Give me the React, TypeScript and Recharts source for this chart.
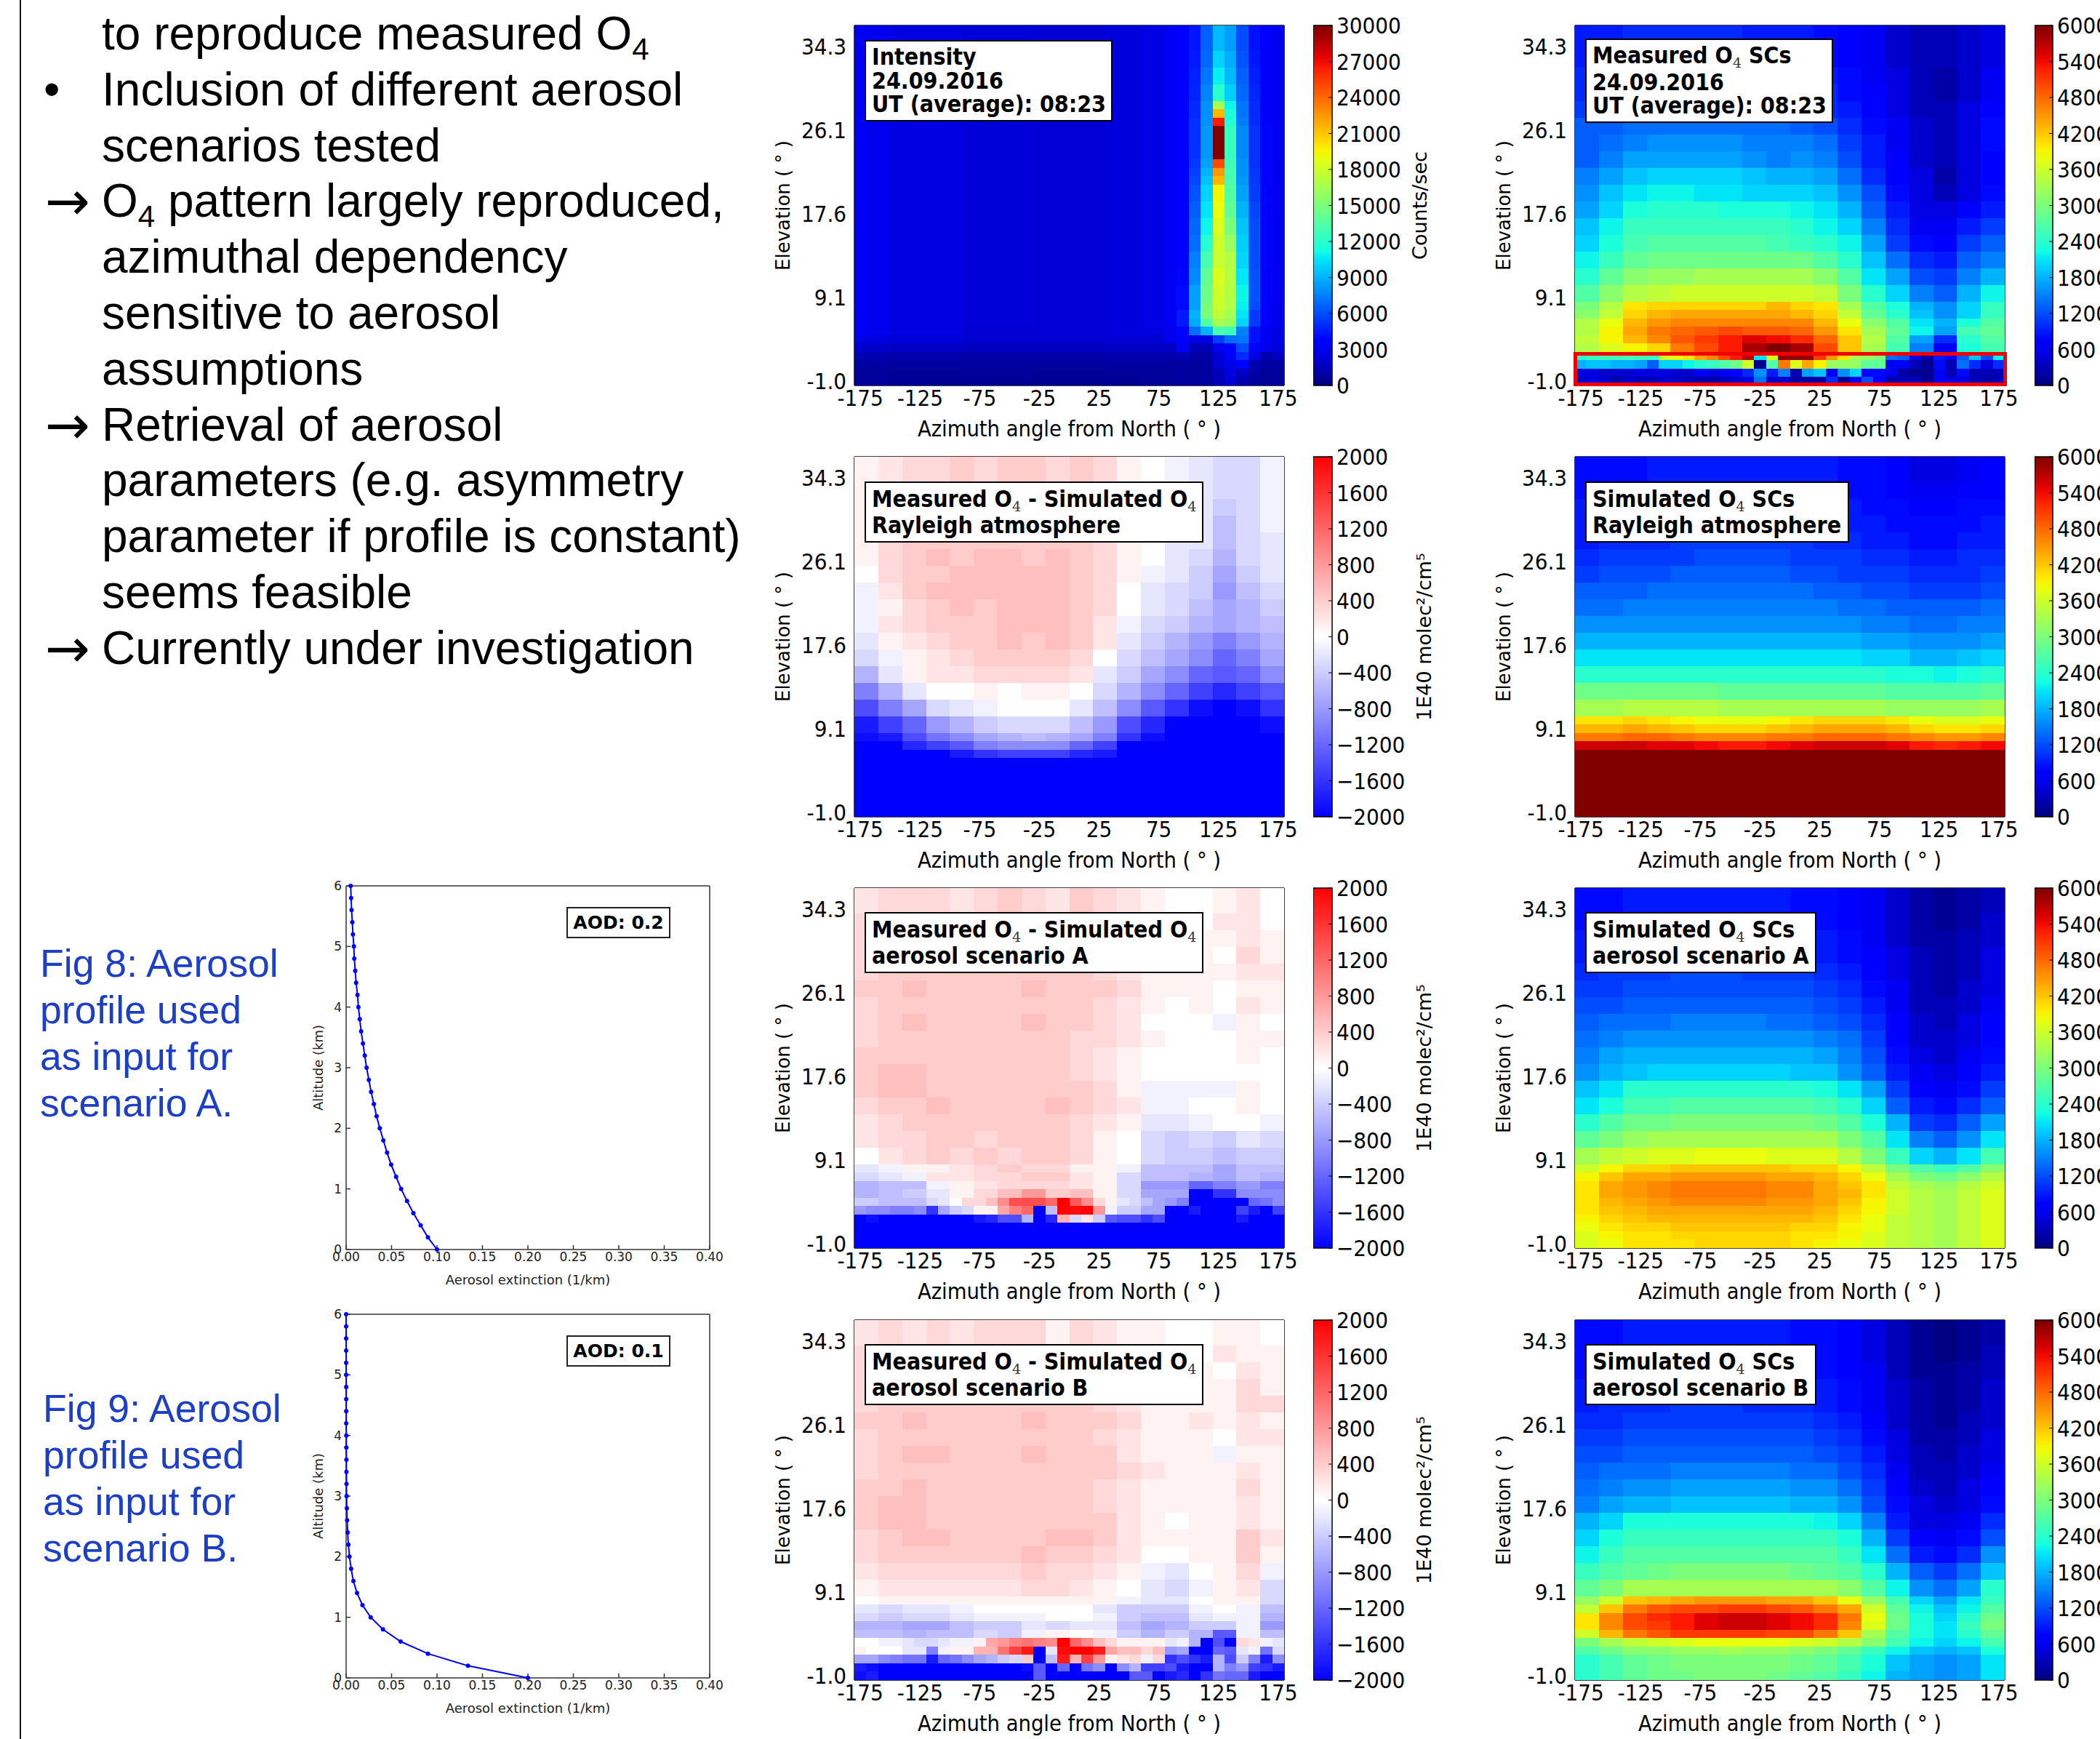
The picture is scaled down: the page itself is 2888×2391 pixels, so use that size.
import { ScatterChart, Scatter, BarChart, Bar, XAxis, YAxis } from 'recharts';

// azimuth / elevation axes
const azimuthTicks = [-175, -125, -75, -25, 25, 75, 125, 175];
const elevationTicks = [0, 10, 20, 30, 40];
const elevationLabels = ['-1.0', '9.1', '17.6', '26.1', '34.3'];

// row spans, top to bottom, in heatmap rows (43 rows in total)
const stdSpans = [3, 2, 2, 2, 2, 2, 2, 2, 2, 2, 2, 2, 2, 2, 2, 2, 1, 1, 1, 1, 1, 1, 1, 1, 1, 1];
const intensitySpans = [3, 2, 2, 2, 1, 1, 1, 4, 1, 1, 1, 2, 2, 2, 2, 2, 2, 2, 1, 1, 1, 1, 1, 1, 1, 1, 1, 1];
const rayleighSimSpans = [3, 2, 2, 2, 2, 2, 2, 2, 2, 2, 2, 2, 2, 2, 2, 1, 1, 1, 1, 8];
const rayleighDiffSpans = [3, 2, 2, 2, 2, 2, 2, 2, 2, 2, 2, 2, 2, 2, 2, 2, 1, 1, 1, 7];
const scenarioADiffSpans = [3, 2, 2, 2, 2, 2, 2, 2, 2, 2, 2, 2, 2, 2, 2, 2, 1, 1, 1, 1, 1, 1, 1, 3];

// column spans (36 columns of 10 degrees); rows with 36 values use single columns
const evenCols = [2, 2, 2, 2, 2, 2, 2, 2, 2, 2, 2, 2, 2, 2, 2, 2, 2, 2];
const intensityCols = [1, 2, 6, 6, 6, 3, 2, 1, 1, 1, 1, 1, 1, 1, 1, 1, 1];

// Intensity, counts/sec in hundreds
const intensityRows = [
  [31,28,25,23,22,24,27,30,33,44,66,92,84,60,42,33,30],
  [31,28,25,23,22,24,27,30,34,45,68,100,88,62,44,34,30],
  [31,28,25,23,22,24,27,30,35,47,72,108,92,66,46,36,30],
  [31,28,25,23,22,24,27,30,35,48,76,120,98,68,48,36,30],
  [31,28,25,23,22,24,27,30,36,50,80,165,110,72,50,36,30],
  [31,28,25,23,22,24,27,30,36,50,80,215,115,72,50,36,30],
  [31,28,25,23,22,24,27,30,36,52,80,265,118,74,50,36,30],
  [31,28,25,23,22,24,27,30,36,52,82,300,125,78,52,38,30],
  [31,28,25,23,22,24,27,30,36,54,85,250,128,80,52,38,30],
  [31,28,25,23,22,24,27,30,36,56,90,225,130,80,54,38,30],
  [31,28,25,23,22,24,27,30,36,58,95,215,132,82,54,38,30],
  [31,28,25,23,22,24,27,30,36,62,100,195,135,85,55,38,30],
  [31,28,25,23,22,24,27,30,36,65,105,190,140,90,58,38,30],
  [31,28,25,23,22,24,27,30,36,68,110,185,150,95,60,38,30],
  [31,28,25,23,22,24,27,30,36,70,120,180,160,98,60,38,30],
  [31,28,25,23,22,24,27,30,36,75,130,178,170,100,60,38,30],
  [31,28,25,23,22,24,27,30,38,78,140,185,172,105,62,38,30],
  [31,28,25,23,22,24,27,30,40,85,145,180,170,110,62,38,30],
  [31,28,25,23,22,24,27,30,40,85,150,178,170,108,60,36,28],
  [31,28,25,23,22,24,27,30,45,90,150,175,165,105,55,35,28],
  [31,28,25,23,22,24,27,30,45,88,135,165,160,100,55,35,28],
  [31,28,25,22,22,24,25,28,35,70,90,130,128,75,42,30,26],
  [27,25,23,21,21,22,22,28,33,26,25,55,70,72,42,30,26],
  [20,19,18,17,17,18,18,18,30,14,14,28,33,60,38,28,24],
  [14,13,12,11,11,12,12,12,14,10,10,22,33,50,26,12,18],
  [9,9,8,8,8,9,9,8,8,8,9,22,26,33,12,9,9],
  [7,7,6,7,6,7,7,7,8,7,8,14,25,18,10,7,8],
  [7,7,6,6,5,6,7,8,8,8,8,14,22,12,8,7,8],
];

// Measured O4 SCs, hundreds
const measuredRows = [
  [9,9,10,10,10,10,10,9,9,9,8,7,6,4,3,3,4,5],
  [9,10,10,10,10,10,10,10,9,9,8,7,6,4,3,3,4,5],
  [10,10,11,11,11,11,11,11,10,10,9,8,6,5,3,2,4,6],
  [10,11,11,12,12,12,12,11,11,11,10,8,7,5,3,2,4,6],
  [11,12,12,13,13,13,13,12,12,11,10,9,7,5,3,3,5,7],
  [13,13,14,14,14,14,14,14,14,13,12,10,8,6,4,3,5,8],
  [13,14,15,16,16,16,16,15,15,15,14,11,9,6,4,3,5,8],
  [13,15,17,17,17,17,17,16,15,16,15,12,9,7,4,3,5,7],
  [15,17,19,20,20,20,20,19,18,18,17,14,10,7,5,2,5,7],
  [16,19,21,22,22,21,21,20,20,20,19,16,12,8,5,3,5,8],
  [17,20,23,24,24,24,23,23,23,22,21,18,13,9,5,5,7,9],
  [19,22,25,25,25,25,25,25,25,24,22,20,15,10,6,6,9,11],
  [20,23,26,27,27,27,27,27,26,25,24,22,17,11,8,7,11,13],
  [22,25,28,29,29,29,29,29,29,29,27,24,19,14,10,9,13,15],
  [24,28,31,32,32,33,33,33,33,33,31,27,21,17,12,11,15,18],
  [27,31,34,35,36,36,36,36,36,36,35,30,24,20,15,13,18,22],
  [30,34,40,41,41,41,41,41,43,41,40,33,27,23,18,16,20,25],
  [31,35,41,43,44,44,44,44,44,43,41,35,28,24,19,16,20,25],
  [34,38,43,45,46,46,46,46,46,46,43,38,31,27,21,18,23,27],
  [34,39,44,47,48,49,50,49,49,48,45,40,33,28,22,17,26,28],
  [35,39,43,46,49,51,53,55,54,52,48,42,34,27,17,10,24,27],
  [34,37,39,41,47,50,53,58,60,58,50,42,33,26,15,6,23,26],
  [24,25,26,26,26,26,25,36,38,40,44,46,50,53,57,21,37,59,59,59,51,45,40,33,32,30,14,13,5,2,9,6,13,19,12,22],
  [18,19,19,18,18,17,13,20,20,22,24,25,27,29,36,1,27,47,37,44,39,32,32,32,28,28,6,6,3,1,8,3,14,10,5,10],
  [5,5,4,4,4,5,5,5,4,4,6,5,6,7,10,16,9,15,3,17,19,6,16,20,7,8,6,2,1,1,7,3,8,3,3,3],
  [4,5,4,2,4,3,3,4,4,3,2,2,3,4,5,14,4,4,2,2,2,10,1,6,12,7,2,3,3,1,6,5,5,3,2,3],
];

// Simulated O4 SCs, Rayleigh atmosphere, hundreds
const simRayleighRows = [
  [8,8,8,9,9,9,9,9,9,9,9,8,8,7,5,5,6,7],
  [8,9,9,9,9,9,9,9,9,9,9,8,8,7,6,6,7,7],
  [9,9,9,9,9,9,10,10,9,9,9,9,8,8,7,7,8,8],
  [9,9,10,10,10,10,10,10,10,10,10,9,9,8,8,8,8,9],
  [9,10,10,10,11,11,11,11,11,11,10,10,9,9,8,8,9,9],
  [10,11,11,11,11,12,12,12,12,11,11,11,10,10,9,9,10,10],
  [11,12,12,12,13,13,13,13,13,12,12,11,11,11,10,10,10,11],
  [13,13,13,14,14,14,14,14,14,14,13,13,12,12,11,11,11,12],
  [14,14,15,15,15,15,15,15,15,15,15,14,14,13,13,13,13,14],
  [16,16,16,16,16,16,16,16,16,16,16,16,15,15,14,14,15,15],
  [18,18,18,18,18,18,18,18,18,18,18,18,17,17,16,16,16,17],
  [21,21,21,21,21,21,21,21,21,21,21,21,20,20,18,18,19,20],
  [24,24,24,24,24,24,24,24,24,24,24,24,24,23,23,22,23,24],
  [29,29,29,29,29,29,28,28,28,28,28,28,28,27,27,27,27,28],
  [33,33,34,34,34,34,33,33,33,33,33,33,33,32,32,32,32,33],
  [40,40,41,40,39,38,38,38,39,40,41,41,41,40,38,37,37,38],
  [43,43,44,43,42,41,41,41,42,43,44,44,44,43,41,40,40,41],
  [47,47,48,48,47,46,46,46,47,47,48,48,48,47,46,45,45,46],
  [56,56,56,55,55,54,53,53,54,55,56,56,56,55,53,52,53,54],
  [60,60,60,60,60,60,60,60,60,60,60,60,60,60,60,60,60,60],
];

// Simulated O4 SCs, aerosol scenario A, hundreds
const simARows = [
  [8,8,9,9,9,9,9,9,9,8,8,7,6,4,2,1,2,3],
  [8,9,9,9,10,10,10,9,9,9,8,7,6,4,2,1,2,4],
  [9,9,10,10,10,10,10,10,10,9,9,8,6,4,2,2,3,4],
  [9,10,10,11,11,11,11,11,10,10,9,8,7,5,3,2,3,5],
  [10,11,11,11,12,12,12,11,11,11,10,9,7,5,3,2,3,5],
  [11,11,12,12,12,12,12,12,12,12,11,10,8,6,3,2,4,5],
  [12,12,13,13,13,13,13,13,13,13,12,11,9,6,3,3,4,6],
  [13,14,14,14,15,15,15,15,14,14,13,12,10,7,4,3,5,7],
  [14,15,16,16,16,16,16,16,16,16,15,14,11,7,4,4,5,7],
  [15,17,18,18,18,18,18,18,18,18,17,15,12,8,5,4,6,8],
  [16,18,19,20,20,20,20,20,20,19,19,16,13,9,6,5,7,9],
  [19,21,24,24,24,24,24,24,24,24,23,21,17,11,7,6,8,11],
  [21,23,26,26,27,27,27,27,27,27,26,24,20,13,9,8,10,13],
  [24,27,29,29,30,30,30,30,30,30,29,27,23,18,11,10,13,17],
  [28,30,32,33,33,33,33,33,33,33,33,30,27,21,15,13,16,21],
  [33,35,36,37,37,38,38,38,37,37,37,34,30,25,20,18,21,26],
  [36,39,41,41,42,42,42,42,42,41,41,39,35,30,27,25,27,31],
  [39,42,44,44,45,45,45,45,44,44,43,41,38,33,30,29,31,34],
  [40,44,45,46,47,47,47,47,46,46,44,42,40,35,33,32,34,36],
  [40,44,45,46,47,47,47,47,46,46,44,43,40,36,34,33,35,37],
  [40,43,44,45,46,46,46,46,45,45,44,42,39,36,34,33,35,37],
  [40,42,43,44,44,44,44,44,44,44,43,41,39,36,34,33,35,37],
  [39,41,42,43,43,43,43,43,43,43,42,40,38,35,34,33,35,37],
  [38,40,41,41,42,42,42,42,42,41,41,39,38,35,34,33,35,37],
  [37,39,40,40,41,41,41,41,41,40,40,39,37,35,34,33,35,37],
  [37,38,40,40,40,41,41,41,41,40,39,38,37,35,34,33,35,37],
];

// Simulated O4 SCs, aerosol scenario B, hundreds
const simBRows = [
  [8,8,9,9,9,9,9,9,9,8,8,7,5,3,1,0,1,2],
  [8,8,9,9,9,9,9,9,9,8,8,7,5,3,1,0,1,3],
  [8,9,9,9,9,10,10,9,9,9,8,7,6,3,1,1,2,3],
  [9,9,10,10,10,10,10,10,10,9,9,8,6,4,2,1,2,4],
  [9,10,10,10,11,11,11,10,10,10,9,8,6,4,2,1,2,4],
  [10,10,11,11,11,11,11,11,11,11,10,9,7,4,2,1,3,4],
  [11,11,12,12,12,12,12,12,12,12,11,10,8,5,2,2,3,5],
  [12,12,13,13,13,13,13,13,13,13,12,11,9,5,3,2,4,5],
  [13,14,14,14,15,15,15,15,15,14,14,12,10,6,3,3,4,6],
  [14,15,16,16,17,17,17,17,17,16,16,14,11,7,4,3,5,7],
  [15,17,18,18,19,19,19,19,19,18,18,16,12,8,5,4,5,8],
  [18,20,23,23,23,23,23,23,23,23,22,20,15,9,5,5,6,10],
  [20,23,25,25,25,25,25,25,25,25,25,23,18,11,7,6,8,12],
  [22,25,27,27,27,27,27,27,27,27,27,25,21,14,9,8,10,16],
  [25,27,28,29,30,30,30,30,30,29,28,27,24,18,13,11,14,19],
  [28,30,33,33,33,33,33,33,33,33,33,31,27,22,16,14,17,24],
  [32,36,42,43,44,45,45,45,44,44,42,38,32,26,20,17,21,25],
  [35,42,47,49,50,50,51,51,50,49,47,44,36,28,22,19,22,27],
  [40,46,50,52,53,55,56,56,55,54,52,47,38,29,23,20,24,29],
  [40,46,50,51,53,55,56,56,55,54,52,46,37,29,23,21,25,30],
  [36,43,47,49,51,51,51,51,50,50,47,42,33,27,23,21,24,28],
  [30,33,35,36,37,38,38,38,38,37,36,34,31,26,22,20,22,26],
  [27,29,31,31,32,32,33,32,32,31,30,28,25,22,19,18,19,23],
  [24,26,28,29,30,30,30,30,30,29,28,26,23,19,17,16,17,21],
  [24,26,28,29,30,30,30,30,30,29,28,26,23,19,17,16,17,21],
  [24,26,28,29,29,30,30,30,29,28,27,25,22,18,17,16,17,21],
];

// Measured - simulated, Rayleigh atmosphere, hundreds
const diffRayleighRows = [
  [1,2,3,3,4,3,4,4,3,4,3,1,0,-1,-2,-3,-3,-1],
  [1,2,3,4,4,4,4,4,4,4,3,1,0,-1,-2,-3,-3,-1],
  [1,3,3,4,4,4,4,4,4,4,3,1,0,-1,-2,-4,-3,-1],
  [1,3,3,4,4,4,4,4,4,4,3,1,0,-1,-2,-5,-3,-1],
  [1,3,4,4,4,4,4,4,4,4,3,1,0,-2,-2,-5,-3,-2],
  [1,3,4,5,4,5,5,4,5,4,3,1,0,-2,-3,-6,-3,-2],
  [0,3,4,4,5,5,5,5,5,4,3,1,-1,-2,-4,-7,-4,-2],
  [-1,2,4,5,5,5,5,5,5,4,3,0,-2,-3,-4,-8,-5,-3],
  [-1,1,3,4,5,4,5,5,5,4,3,0,-2,-3,-5,-7,-6,-4],
  [-1,2,3,4,4,4,5,5,5,4,2,-1,-3,-4,-6,-7,-6,-5],
  [-2,1,2,3,4,4,5,4,5,4,2,-2,-4,-6,-8,-10,-8,-6],
  [-3,-1,1,2,3,4,4,4,4,3,0,-3,-5,-7,-9,-12,-10,-7],
  [-6,-2,1,2,2,3,3,3,3,2,-2,-4,-7,-9,-12,-13,-12,-9],
  [-10,-6,-2,0,0,1,0,1,1,0,-3,-6,-9,-12,-15,-17,-15,-13],
  [-14,-10,-7,-3,-2,-1,0,0,0,-2,-5,-9,-13,-16,-19,-20,-19,-16],
  [-18,-15,-12,-8,-6,-4,-3,-3,-3,-5,-8,-14,-17,-20,-20,-20,-20,-19],
  [-19,-18,-14,-11,-9,-7,-6,-5,-6,-7,-10,-16,-19,-20,-20,-20,-20,-20],
  [-20,-20,-17,-15,-13,-10,-9,-9,-9,-12,-15,-20,-20,-20,-20,-20,-20,-20],
  [-20,-20,-20,-20,-18,-16,-15,-15,-15,-17,-18,-20,-20,-20,-20,-20,-20,-20],
  [-20,-20,-20,-20,-20,-20,-20,-20,-20,-20,-20,-20,-20,-20,-20,-20,-20,-20],
];

// Measured - simulated, aerosol scenario A, hundreds
const diffARows = [
  [2,3,3,3,2,3,4,3,2,4,3,2,1,0,0,1,2,0],
  [3,3,4,3,3,4,4,3,3,4,3,2,1,0,0,2,2,0],
  [3,4,4,4,3,4,4,4,4,4,3,2,1,1,1,1,2,1],
  [3,4,4,4,4,4,4,4,4,4,3,2,1,1,1,0,3,1],
  [3,4,4,4,4,4,4,4,4,4,3,2,1,1,1,1,2,2],
  [4,4,5,4,4,4,4,5,4,4,4,3,1,1,1,0,1,1],
  [3,4,4,4,4,4,4,4,4,4,3,2,1,0,1,0,2,1],
  [3,4,5,4,4,4,4,5,4,4,3,2,0,0,0,-1,1,0],
  [3,4,4,4,4,4,4,4,4,3,3,2,1,0,0,0,1,1],
  [4,4,4,4,4,4,4,4,4,3,2,1,0,0,0,0,1,0],
  [4,5,5,4,4,4,4,4,4,3,2,1,0,0,0,0,0,0],
  [4,5,5,4,4,4,4,4,4,4,3,1,-1,-1,-1,-1,1,0],
  [3,4,4,5,4,4,4,4,5,4,3,2,-1,-1,0,0,1,0],
  [2,3,4,4,4,4,4,4,4,3,2,1,-2,-2,-1,0,0,-1],
  [2,3,3,4,4,3,4,4,4,3,1,0,-3,-4,-3,-4,-2,-3],
  [0,2,3,4,3,4,3,4,4,3,1,0,-3,-4,-4,-5,-4,-4],
  [-2,-1,1,1,2,3,4,3,3,1,1,-1,-5,-5,-5,-7,-5,-5],
  [-3,-2,-1,2,2,3,3,4,4,2,1,-3,-5,-5,-6,-7,-5,-6],
  [-6,-5,-5,-1,1,2,3,3,3,2,1,-3,-8,-8,-12,-10,-8,-10],
  [-6,-5,-4,-2,1,3,5,8,4,5,1,-3,-7,-7,-20,-16,-9,-9],
  [-4,-4,-5,-5,-5,-5,-3,-2,0,3,3,5,9,14,14,14,12,20,13,9,3,1,-2,-3,-5,-7,-8,-10,-20,-20,-20,-20,-20,-12,-11,-9],
  [-8,-9,-9,-10,-10,-9,-16,-7,-4,-3,1,1,7,10,12,-20,-5,20,19,20,8,-1,-4,-4,-7,-7,-20,-20,-18,-20,-20,-20,-15,-18,-20,-15],
  [-20,-19,-20,-20,-20,-20,-20,-20,-20,-20,-18,-17,-14,-14,-6,-20,-17,6,-3,2,-4,-13,-14,-14,-16,-14,-20,-20,-20,-20,-20,-20,-18,-20,-20,-20],
  [-20,-20,-20,-20,-20,-20,-20,-20,-20,-20,-20,-20,-20,-20,-20,-20,-20,-20],
];

// Measured - simulated, aerosol scenario B, hundreds
const diffBRows = [
  [2,3,2,3,2,3,3,3,1,3,2,1,1,0,0,1,1,0],
  [3,3,4,3,3,4,3,3,3,4,3,2,1,0,0,2,1,1],
  [3,4,4,3,3,4,4,4,4,4,3,2,1,1,1,0,2,1],
  [3,4,4,4,4,4,4,4,4,4,3,2,1,1,1,1,3,1],
  [3,4,4,4,4,4,4,4,4,4,3,2,1,1,1,1,3,3],
  [4,4,5,4,4,4,4,5,4,4,4,3,1,1,2,1,2,1],
  [3,4,4,4,4,4,4,4,4,4,3,2,1,1,1,0,2,2],
  [3,4,5,5,4,4,4,5,4,4,4,2,1,1,1,-1,1,1],
  [3,4,4,4,4,4,4,4,4,4,4,3,2,1,1,1,2,1],
  [4,4,5,4,4,4,4,4,4,4,3,2,1,1,1,1,3,1],
  [4,5,5,4,4,4,4,4,4,4,3,2,1,1,1,1,2,1],
  [4,5,5,4,4,4,4,4,4,4,4,2,1,0,1,1,2,1],
  [3,4,5,5,4,4,4,4,5,5,4,2,1,1,1,1,4,2],
  [3,4,4,4,4,4,4,5,4,4,3,2,0,0,1,1,4,1],
  [2,3,3,3,3,3,3,4,3,3,2,1,-1,-2,0,1,3,-1],
  [1,2,2,2,2,2,2,3,3,2,1,0,-2,-3,-1,1,2,-3],
  [0,1,1,1,1,1,1,1,1,1,1,-1,-2,-2,0,1,1,-3],
  [-2,-3,-2,-2,-1,0,0,0,0,0,-2,-4,-4,-4,-1,0,-1,-5],
  [-3,-4,-3,-3,-2,-1,-1,-1,0,0,-1,-4,-5,-5,-2,-1,-1,-6],
  [-6,-6,-7,-7,-5,-4,-4,-2,-3,-2,-2,-5,-7,-6,-4,-4,-1,-8],
  [-5,-5,-6,-5,-5,-3,-4,-1,1,0,-1,-4,-6,-4,-6,-13,-1,-5],
  [0,0,-1,-1,-2,-3,-3,-2,-1,-1,1,7,8,10,11,10,9,20,12,9,5,3,1,1,1,1,-2,-1,-6,-20,-14,-20,3,2,-1,-2],
  [1,0,0,0,-2,-2,-10,-1,1,1,6,6,11,15,18,-20,-2,19,20,20,18,7,5,5,3,5,-8,-7,-20,-20,-12,-13,-2,-1,-11,-3],
  [-7,-7,-9,-10,-11,-11,-18,-12,-11,-9,-7,-6,-4,-3,4,-20,-5,18,6,15,8,1,2,3,-1,3,-16,-14,-16,-18,-6,-14,-4,-10,-18,-9],
  [-18,-19,-20,-20,-20,-20,-20,-20,-20,-20,-20,-20,-20,-20,-19,-13,-20,-12,-20,-11,-9,-20,-9,-6,-15,-15,-14,-18,-20,-20,-6,-10,-8,-15,-16,-18],
  [-19,-18,-20,-20,-20,-20,-20,-20,-20,-20,-20,-20,-20,-20,-20,-13,-20,-20,-20,-20,-20,-20,-20,-13,-13,-20,-18,-17,-20,-16,-11,-12,-12,-18,-20,-20],
];

// aerosol profiles
const altitudeKm = [0,0.2,0.4,0.6,0.8,1,1.2,1.4,1.6,1.8,2,2.2,2.4,2.6,2.8,3,3.2,3.4,3.6,3.8,4,4.2,4.4,4.6,4.8,5,5.2,5.4,5.6,5.8,6];
const extinctionA = [0.1,0.09,0.082,0.074,0.067,0.0605,0.055,0.0495,0.045,0.041,0.037,0.0335,0.0305,0.0275,0.025,0.0225,0.0205,0.0185,0.0165,0.015,0.0135,0.0125,0.011,0.01,0.009,0.0085,0.0075,0.0068,0.006,0.0055,0.005];
const extinctionB = [0.2,0.134,0.09,0.06,0.0405,0.027,0.018,0.012,0.008,0.0055,0.0037,0.0025,0.0017,0.0011,0.0008,0.0005,0.0004,0.0003,0.0003,0.0002,0.0002,0.0001,0.0001,0.0001,0.0001,0,0,0,0,0,0];
const extinctionTicks = [0,0.05,0.1,0.15,0.2,0.25,0.3,0.35,0.4];
const altitudeTicks = [0,1,2,3,4,5,6];

// colorbar ticks
const countTicks = [0,3000,6000,9000,12000,15000,18000,21000,24000,27000,30000];
const o4Ticks = [0,600,1200,1800,2400,3000,3600,4200,4800,5400,6000];
const diffTicks = [-2000,-1600,-1200,-800,-400,0,400,800,1200,1600,2000];

const slideLines = [
  { mark: '', text: 'to reproduce measured O', sub: '4', rest: '' },
  { mark: '•', text: 'Inclusion of different aerosol' },
  { mark: '', text: 'scenarios tested' },
  { mark: '→', text: 'O', sub: '4', rest: ' pattern largely reproduced,' },
  { mark: '', text: 'azimuthal dependency' },
  { mark: '', text: 'sensitive to aerosol' },
  { mark: '', text: 'assumptions' },
  { mark: '→', text: 'Retrieval of aerosol' },
  { mark: '', text: 'parameters (e.g. asymmetry' },
  { mark: '', text: 'parameter if profile is constant)' },
  { mark: '', text: 'seems feasible' },
  { mark: '→', text: 'Currently under investigation' },
];
const fig8Lines = ['Fig 8: Aerosol', 'profile used', 'as input for', 'scenario A.'];
const fig9Lines = ['Fig 9: Aerosol', 'profile used', 'as input for', 'scenario B.'];

const TICK_FONT = '"DejaVu Sans Condensed", "DejaVu Sans", sans-serif';
const LABEL_FONT = '"DejaVu Sans", sans-serif';
const PLOT_W = 591;
const PLOT_H = 495;
const LEFT_W = 196;
const BOTTOM_H = 122;
const PAD = 24;
const CB_RIGHT_W = 240;

const interp = (t: number, pts: number[][]) => {
  for (let i = 1; i < pts.length; i++) {
    if (t <= pts[i][0]) {
      const [a, va] = pts[i - 1];
      const [b, vb] = pts[i];
      return va + ((vb - va) * (t - a)) / (b - a);
    }
  }
  return pts[pts.length - 1][1];
};

const jet = (t: number) => {
  const r = interp(t, [[0, 0], [0.35, 0], [0.66, 1], [0.89, 1], [1, 0.5]]);
  const g = interp(t, [[0, 0], [0.125, 0], [0.375, 1], [0.64, 1], [0.91, 0], [1, 0]]);
  const b = interp(t, [[0, 0.5], [0.11, 1], [0.34, 1], [0.65, 0], [1, 0]]);
  return `rgb(${Math.round(r * 255)},${Math.round(g * 255)},${Math.round(b * 255)})`;
};

const bwr = (t: number) => {
  const r = t < 0.5 ? t * 2 : 1;
  const b = t < 0.5 ? 1 : (1 - t) * 2;
  const g = Math.min(r, b);
  return `rgb(${Math.round(r * 255)},${Math.round(g * 255)},${Math.round(b * 255)})`;
};

const buildCells = (rows: number[][], spans: number[], cols: number[], unit: number, vmin: number, vmax: number, cmap: (t: number) => string) => {
  const cells: any[] = [];
  let top = 43;
  rows.forEach((row, i) => {
    const span = spans[i];
    const bottom = top - span;
    let left = 0;
    row.forEach((v, j) => {
      const w = row.length === 36 ? 1 : cols[j];
      const value = v * unit;
      cells.push({
        az: -180 + 10 * (left + w / 2),
        el: -0.35 + bottom + span / 2,
        value,
        colW: w,
        rowH: span,
        fill: cmap(Math.max(0, Math.min(1, (value - vmin) / (vmax - vmin)))),
      });
      left += w;
    });
    top = bottom;
  });
  return cells;
};

const cellShape = (p: any) => {
  const w = (p.payload.colW * PLOT_W) / 36;
  const h = (p.payload.rowH * PLOT_H) / 43;
  return <rect x={p.cx - w / 2} y={p.cy - h / 2} width={w} height={h} fill={p.payload.fill} shapeRendering="crispEdges" />;
};

const axisLine = { stroke: '#000', strokeWidth: 1.5 };
const tickLine = { stroke: '#000', strokeWidth: 1 };

function Heatmap({ x, y, rows, spans = stdSpans, cols = evenCols, unit, vmin, vmax, cmap }: any) {
  const cells = buildCells(rows, spans, cols, unit, vmin, vmax, cmap);
  const tickStyle = { fontFamily: TICK_FONT, fontSize: 31, fill: '#000' };
  return (
    <div style={{ position: 'absolute', left: x - LEFT_W, top: y - PAD }}>
      <ScatterChart
        width={LEFT_W + PLOT_W + 60}
        height={PAD + PLOT_H + BOTTOM_H}
        margin={{ top: PAD - 1, right: 59, bottom: 0, left: 0 }}
      >
        <Scatter data={cells} dataKey="el" shape={cellShape} isAnimationActive={false} />
        <XAxis
          type="number"
          dataKey="az"
          domain={[-180, 180]}
          ticks={azimuthTicks}
          interval={0}
          allowDataOverflow
          height={BOTTOM_H}
          tick={tickStyle}
          axisLine={axisLine}
          tickLine={tickLine}
          tickSize={-7}
          tickMargin={13}
          label={{ value: 'Azimuth angle from North ( ° )', position: 'center', dy: -2, style: { fontFamily: TICK_FONT, fontSize: 30.5, fill: '#000' } }}
        />
        <YAxis
          type="number"
          dataKey="el"
          domain={[-0.35, 42.65]}
          ticks={elevationTicks}
          interval={0}
          allowDataOverflow
          width={LEFT_W}
          tick={{ ...tickStyle, dy: -2 }}
          axisLine={axisLine}
          tickLine={tickLine}
          tickSize={-7}
          tickMargin={18}
          tickFormatter={(v: number) => elevationLabels[elevationTicks.indexOf(v)]}
          label={{ value: 'Elevation ( ° )', angle: -90, position: 'center', style: { fontFamily: LABEL_FONT, fontSize: 26, fill: '#000' } }}
        />
        <XAxis xAxisId="top" orientation="top" type="number" domain={[-180, 180]} ticks={azimuthTicks} interval={0} allowDataOverflow height={1} tick={false} axisLine={axisLine} tickLine={tickLine} tickSize={-7} />
        <YAxis yAxisId="right" orientation="right" type="number" domain={[-0.35, 42.65]} ticks={elevationTicks} interval={0} allowDataOverflow width={1} tick={false} axisLine={axisLine} tickLine={tickLine} tickSize={-7} />
        <Scatter data={[]} xAxisId="top" yAxisId="right" isAnimationActive={false} />
      </ScatterChart>
    </div>
  );
}

function Colorbar({ id, x, y, w, vmin, vmax, ticks, cmap, title, titleW }: any) {
  const stops = Array.from({ length: 41 }, (_, i) => i / 40);
  const rightW = titleW || CB_RIGHT_W;
  return (
    <div style={{ position: 'absolute', left: x, top: y - PAD }}>
      <BarChart
        width={w + rightW}
        height={PLOT_H + PAD * 2}
        data={[{ name: 'cb', range: [vmin, vmax] }]}
        margin={{ top: PAD, right: 0, bottom: PAD, left: 0 }}
        barCategoryGap={0}
      >
        <defs>
          <linearGradient id={id} x1="0" y1="1" x2="0" y2="0">
            {stops.map((t) => (
              <stop key={t} offset={t} stopColor={cmap(t)} />
            ))}
          </linearGradient>
        </defs>
        <Bar dataKey="range" fill={`url(#${id})`} stroke="#000" strokeWidth={1.5} isAnimationActive={false} />
        <XAxis dataKey="name" hide />
        <YAxis
          orientation="right"
          type="number"
          domain={[vmin, vmax]}
          ticks={ticks}
          interval={0}
          width={rightW}
          axisLine={false}
          tickLine={tickLine}
          tickSize={-5}
          tickMargin={11}
          tick={{ fontFamily: TICK_FONT, fontSize: 31, fill: '#000' }}
          tickFormatter={(v: number) => String(v).replace('-', '−')}
          label={title ? { value: title, angle: -90, position: 'center', style: { fontFamily: LABEL_FONT, fontSize: 27, fill: '#000' } } : undefined}
        />
      </BarChart>
    </div>
  );
}

function Profile({ y, xs, aod }: any) {
  const data = xs.map((v: number, i: number) => ({ ext: v, alt: altitudeKm[i] }));
  const tick = { fontFamily: LABEL_FONT, fontSize: 17, fill: '#222' };
  const frame = { stroke: '#333', strokeWidth: 1.5 };
  return (
    <>
      <div style={{ position: 'absolute', left: 476 - 76, top: y - PAD }}>
        <ScatterChart width={76 + 500 + 30} height={PAD + 500 + 62} margin={{ top: PAD - 1, right: 29, bottom: 0, left: 0 }}>
          <Scatter
            data={data}
            dataKey="alt"
            line={{ stroke: '#0000ff', strokeWidth: 2 }}
            shape={(p: any) => <circle cx={p.cx} cy={p.cy} r={3} fill="#0000ff" />}
            isAnimationActive={false}
          />
          <XAxis type="number" dataKey="ext" domain={[0, 0.4]} ticks={extinctionTicks} interval={0} height={62} tick={tick} axisLine={frame} tickLine={frame} tickSize={-6} tickMargin={10} tickFormatter={(v: number) => v.toFixed(2)}
            label={{ value: 'Aerosol extinction (1/km)', position: 'center', dy: 11, style: { fontFamily: LABEL_FONT, fontSize: 18, fill: '#222' } }} />
          <YAxis type="number" dataKey="alt" domain={[0, 6]} ticks={altitudeTicks} interval={0} width={76} tick={tick} axisLine={frame} tickLine={frame} tickSize={-6} tickMargin={12}
            label={{ value: 'Altitude (km)', angle: -90, position: 'center', style: { fontFamily: LABEL_FONT, fontSize: 18, fill: '#222' } }} />
          <XAxis xAxisId="top" orientation="top" type="number" domain={[0, 0.4]} ticks={extinctionTicks} interval={0} height={1} tick={false} axisLine={frame} tickLine={frame} tickSize={-6} />
          <YAxis yAxisId="right" orientation="right" type="number" domain={[0, 6]} ticks={altitudeTicks} interval={0} width={1} tick={false} axisLine={frame} tickLine={frame} tickSize={-6} />
          <Scatter data={[]} xAxisId="top" yAxisId="right" isAnimationActive={false} />
        </ScatterChart>
      </div>
      <div style={{ position: 'absolute', left: 779, top: y + 29, width: 143, height: 43, boxSizing: 'border-box', border: '2px solid #222', background: '#fff', font: `bold 25px ${LABEL_FONT}`, textAlign: 'center', lineHeight: '39px', color: '#000', whiteSpace: 'nowrap' }}>
        {aod}
      </div>
    </>
  );
}

const O4 = () => (
  <>
    O<span style={{ fontFamily: '"DejaVu Serif", serif', fontWeight: 400, fontSize: 19, position: 'relative', top: 6, color: '#333' }}>4</span>
  </>
);

function Note({ x, y, w, h, first, second, third }: any) {
  return (
    <div style={{ position: 'absolute', left: x, top: y, width: w, height: h, boxSizing: 'border-box', border: '2px solid #000', background: '#fff', display: 'flex', flexDirection: 'column', justifyContent: 'center', paddingLeft: 8, font: `bold 31.8px ${TICK_FONT}`, lineHeight: '32.5px', color: '#000', whiteSpace: 'nowrap' }}>
      <div>{first}</div>
      <div>{second}</div>
      {third && <div>{third}</div>}
    </div>
  );
}

const diffRange = { unit: 100, vmin: -2000, vmax: 2000, cmap: bwr };
const o4Range = { unit: 100, vmin: 0, vmax: 6000, cmap: jet };
const slideFont = '64px "Liberation Sans", Arial, sans-serif';
const captionFont = '53.6px "Liberation Sans", Arial, sans-serif';

export default function App() {
  const col1 = 1175;
  const col2 = 2166;
  const row1 = 35;
  const row2 = 628;
  const row3 = 1221;
  const row4 = 1815;
  const measuredLabel = <>Measured <O4 /> - Simulated <O4 /></>;
  const simulatedLabel = <>Simulated <O4 /> SCs</>;
  return (
    <div style={{ position: 'absolute', left: 0, top: 0, width: 2888, height: 2391, overflow: 'hidden', background: '#fff' }}>
      <div style={{ position: 'absolute', left: 27, top: 0, width: 2, height: 2391, background: '#111' }} />

      <div style={{ position: 'absolute', left: 0, top: 8, width: 1040, font: slideFont, lineHeight: '76.8px', color: '#000', whiteSpace: 'nowrap' }}>
        {slideLines.map((l, i) => (
          <div key={i} style={{ position: 'relative', height: 76.8, paddingLeft: 140 }}>
            {l.mark === '•' && <span style={{ position: 'absolute', left: 60 }}>{l.mark}</span>}
            {l.mark === '→' && <span style={{ position: 'absolute', left: 62, top: 0, fontFamily: LABEL_FONT, fontSize: 74 }}>{l.mark}</span>}
            {l.text}
            {l.sub && <span style={{ fontSize: 42, position: 'relative', top: 14 }}>{l.sub}</span>}
            {l.rest}
          </div>
        ))}
      </div>

      <div style={{ position: 'absolute', left: 55, top: 1292, font: captionFont, lineHeight: '64px', color: '#1c3fc4', whiteSpace: 'nowrap' }}>
        {fig8Lines.map((t) => <div key={t}>{t}</div>)}
      </div>
      <div style={{ position: 'absolute', left: 59, top: 1904, font: captionFont, lineHeight: '64px', color: '#1c3fc4', whiteSpace: 'nowrap' }}>
        {fig9Lines.map((t) => <div key={t}>{t}</div>)}
      </div>

      <Profile y={1218} xs={extinctionA} aod="AOD: 0.2" />
      <Profile y={1807} xs={extinctionB} aod="AOD: 0.1" />

      <Heatmap x={col1} y={row1} rows={intensityRows} spans={intensitySpans} cols={intensityCols} unit={100} vmin={0} vmax={30000} cmap={jet} />
      <Colorbar id="cb1" x={1806} y={row1} w={26} vmin={0} vmax={30000} ticks={countTicks} cmap={jet} title="Counts/sec" />
      <Note x={1189} y={55} w={341} h={112} first="Intensity" second="24.09.2016" third="UT (average): 08:23" />

      <Heatmap x={col2} y={row1} rows={measuredRows} {...o4Range} />
      <div style={{ position: 'absolute', left: 2164, top: 484, width: 596, height: 47, boxSizing: 'border-box', border: '5px solid #f00000' }} />
      <Colorbar id="cb2" x={2798} y={row1} w={25} vmin={0} vmax={6000} ticks={o4Ticks} cmap={jet} />
      <Note x={2180} y={53} w={341} h={116} first={<>Measured <O4 /> SCs</>} second="24.09.2016" third="UT (average): 08:23" />

      <Heatmap x={col1} y={row2} rows={diffRayleighRows} spans={rayleighDiffSpans} {...diffRange} />
      <Colorbar id="cb3" x={1806} y={row2} w={26} vmin={-2000} vmax={2000} ticks={diffTicks} cmap={bwr} title="1E40 molec²/cm⁵" titleW={252} />
      <Note x={1189} y={662} w={466} h={84} first={measuredLabel} second="Rayleigh atmosphere" />

      <Heatmap x={col2} y={row2} rows={simRayleighRows} spans={rayleighSimSpans} {...o4Range} />
      <Colorbar id="cb4" x={2798} y={row2} w={25} vmin={0} vmax={6000} ticks={o4Ticks} cmap={jet} />
      <Note x={2180} y={662} w={363} h={84} first={simulatedLabel} second="Rayleigh atmosphere" />

      <Heatmap x={col1} y={row3} rows={diffARows} spans={scenarioADiffSpans} {...diffRange} />
      <Colorbar id="cb5" x={1806} y={row3} w={26} vmin={-2000} vmax={2000} ticks={diffTicks} cmap={bwr} title="1E40 molec²/cm⁵" titleW={252} />
      <Note x={1189} y={1254} w={466} h={84} first={measuredLabel} second="aerosol scenario A" />

      <Heatmap x={col2} y={row3} rows={simARows} {...o4Range} />
      <Colorbar id="cb6" x={2798} y={row3} w={25} vmin={0} vmax={6000} ticks={o4Ticks} cmap={jet} />
      <Note x={2180} y={1254} w={318} h={84} first={simulatedLabel} second="aerosol scenario A" />

      <Heatmap x={col1} y={row4} rows={diffBRows} {...diffRange} />
      <Colorbar id="cb7" x={1806} y={row4} w={26} vmin={-2000} vmax={2000} ticks={diffTicks} cmap={bwr} title="1E40 molec²/cm⁵" titleW={252} />
      <Note x={1189} y={1848} w={466} h={84} first={measuredLabel} second="aerosol scenario B" />

      <Heatmap x={col2} y={row4} rows={simBRows} {...o4Range} />
      <Colorbar id="cb8" x={2798} y={row4} w={25} vmin={0} vmax={6000} ticks={o4Ticks} cmap={jet} />
      <Note x={2180} y={1848} w={318} h={84} first={simulatedLabel} second="aerosol scenario B" />
    </div>
  );
}
